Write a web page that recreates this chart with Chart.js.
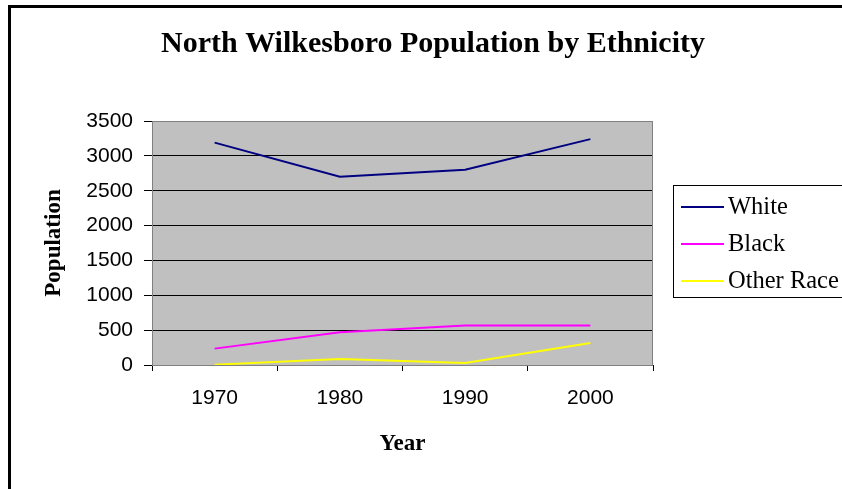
<!DOCTYPE html>
<html>
<head>
<meta charset="utf-8">
<script src="https://cdn.jsdelivr.net/npm/chart.js@4/dist/chart.umd.min.js"></script>
<style>
  html, body { margin: 0; padding: 0; background: #fff; }
  #wrap { width: 842px; height: 489px; position: relative; }
</style>
</head>
<body>
<div id="wrap"><canvas id="popChart" width="842" height="489"></canvas></div>
<script>
const years = ['1970', '1980', '1990', '2000'];
const whitePop = [3190, 2700, 2800, 3240];
const blackPop = [235, 470, 565, 565];
const otherPop = [5, 85, 30, 315];

// plot background, outer border, title and boxed legend (Excel look)
const excelLook = {
  id: 'excelLook',
  beforeDraw(chart) {
    const { ctx, chartArea: a } = chart;
    ctx.save();
    ctx.fillStyle = '#fff';
    ctx.fillRect(0, 0, chart.width, chart.height);
    ctx.strokeStyle = '#000';
    ctx.lineWidth = 3;
    ctx.strokeRect(9.5, 6.5, chart.width + 10, chart.height + 10);
    ctx.fillStyle = '#C0C0C0';
    ctx.fillRect(a.left, a.top, a.right - a.left, a.bottom - a.top);
    ctx.restore();
  },
  afterDraw(chart) {
    const { ctx, chartArea: a } = chart;
    ctx.save();
    ctx.strokeStyle = '#808080';
    ctx.lineWidth = 1;
    ctx.strokeRect(a.left + 0.5, a.top + 0.5, a.right - a.left - 1, a.bottom - a.top);
    ctx.fillStyle = '#000';
    ctx.textAlign = 'center';
    ctx.textBaseline = 'middle';
    ctx.font = 'bold 30px "Liberation Serif", "Times New Roman", serif';
    ctx.fillText('North Wilkesboro Population by Ethnicity', 433, 44);

    // legend
    ctx.strokeStyle = '#000';
    ctx.strokeRect(673.5, 185.5, 200, 112);
    ctx.font = '24.5px "Liberation Serif", "Times New Roman", serif';
    ctx.textAlign = 'left';
    chart.data.datasets.forEach((ds, i) => {
      const y = 207 + i * 37;
      ctx.strokeStyle = ds.borderColor;
      ctx.lineWidth = 2;
      ctx.beginPath();
      ctx.moveTo(681, y);
      ctx.lineTo(724, y);
      ctx.stroke();
      ctx.fillText(ds.label, 728, y + 1);
    });
    ctx.restore();
  }
};

new Chart(document.getElementById('popChart'), {
  type: 'line',
  data: {
    labels: years,
    datasets: [
      { label: 'White', data: whitePop, borderColor: '#000080', borderWidth: 2, pointRadius: 0, tension: 0 },
      { label: 'Black', data: blackPop, borderColor: '#FF00FF', borderWidth: 2, pointRadius: 0, tension: 0 },
      { label: 'Other Race', data: otherPop, borderColor: '#FFFF00', borderWidth: 2, pointRadius: 0, tension: 0 }
    ]
  },
  options: {
    responsive: false,
    animation: false,
    devicePixelRatio: 1,
    layout: { padding: { left: 37, right: 189, top: 121, bottom: 0 } },
    plugins: {
      legend: { display: false },
      title: { display: false },
      tooltip: { enabled: false }
    },
    scales: {
      x: {
        offset: true,
        afterFit(scale) { scale.height = 489 - 365; },
        grid: { offset: true, drawOnChartArea: false, tickLength: 6, color: '#000' },
        border: { color: '#000' },
        ticks: { color: '#000', padding: 15, font: { family: '"Liberation Sans", Arial, sans-serif', size: 21 } },
        title: {
          display: true, text: 'Year', color: '#000',
          font: { family: '"Liberation Serif", "Times New Roman", serif', size: 23, weight: 'bold' },
          padding: { top: 4, bottom: 31 }
        }
      },
      y: {
        min: 0,
        max: 3500,
        afterFit(scale) { scale.width = 152 - 37; },
        grid: { color: '#000', tickLength: 8 },
        border: { color: '#000' },
        ticks: {
          stepSize: 500, color: '#000', padding: 11,
          font: { family: '"Liberation Sans", Arial, sans-serif', size: 21 },
          callback: (v) => String(v)
        },
        title: {
          display: true, text: 'Population', color: '#000',
          font: { family: '"Liberation Serif", "Times New Roman", serif', size: 23, weight: 'bold' },
          padding: { top: 3, bottom: 4 }
        }
      }
    }
  },
  plugins: [excelLook]
});
</script>
</body>
</html>
